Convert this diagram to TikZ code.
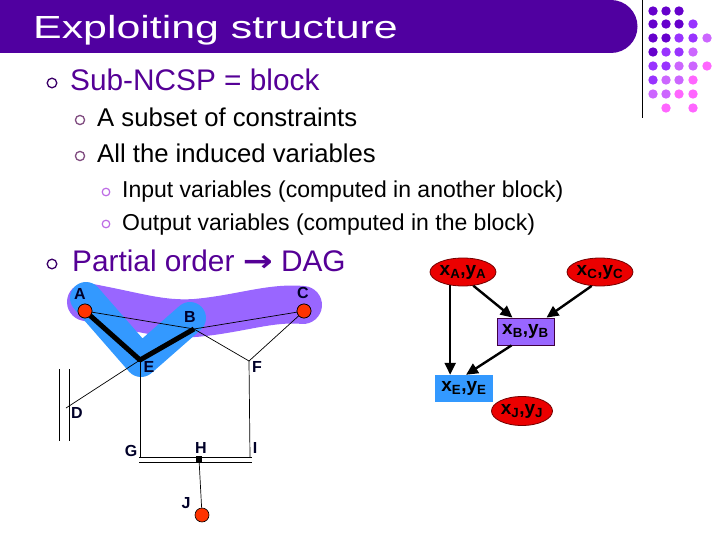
\documentclass[tikz,border=0pt]{standalone}
\usepackage{fontspec}
\setmainfont{Liberation Sans}
\newfontfamily\symfont{DejaVu Sans}
\usepackage{xcolor}
\usetikzlibrary{shapes.geometric,arrows.meta}

\definecolor{titlebar}{RGB}{80,0,160}
\definecolor{headtext}{RGB}{85,0,150}
\definecolor{bandpurple}{RGB}{153,102,255}
\definecolor{bandblue}{RGB}{51,153,255}
\definecolor{dotred}{RGB}{255,51,0}
\definecolor{varred}{RGB}{235,0,0}
\definecolor{labelink}{RGB}{0,0,40}
\definecolor{dotA}{RGB}{102,0,204}
\definecolor{dotB}{RGB}{153,51,255}
\definecolor{dotC}{RGB}{204,102,255}
\definecolor{dotD}{RGB}{255,102,255}

\tikzset{
  lbl/.style={font=\fontsize{16}{16}\selectfont\bfseries, text=labelink, inner sep=0pt},
  redpt/.style={circle, fill=dotred, draw=black, line width=0.6pt, minimum size=14pt, inner sep=0pt},
  varell/.style={ellipse, fill=varred, draw=red!45!black, line width=0.8pt, minimum width=59pt, minimum height=28pt, inner sep=0pt, font=\fontsize{19}{19}\selectfont\bfseries},
  varbox/.style={rectangle, minimum width=57pt, minimum height=27pt, inner sep=0pt, font=\fontsize{19}{19}\selectfont\bfseries},
  dagarrow/.style={-{Triangle[length=12pt,width=11pt]}, line width=2.4pt},
  thin edge/.style={line width=0.7pt},
  txt/.style={anchor=base west, inner sep=0pt},
}

\begin{document}
\begin{tikzpicture}[x=1pt,y=1pt]
    \useasboundingbox (0,0) rectangle (720,-540);
    % title bar
    \fill [titlebar] (0,0) -- (611,0) arc (90:-90:26.5) -- (0,-53) -- cycle;
    \node [txt, text=white, font=\fontsize{32}{32}\selectfont] (title) at (33,-39) {\scalebox{1.34}[1]{Exploiting structure}};
    \draw [line width=1pt] (642,0) -- (642,-118);
    % dots
    \fill [dotA] (653,-11) circle (4.7); \fill [dotA] (666,-11) circle (4.7); \fill [dotA] (679,-11) circle (4.7);
    \fill [dotA] (653,-24) circle (4.7); \fill [dotA] (666,-24) circle (4.7); \fill [dotA] (679,-24) circle (4.7); \fill [dotB] (693,-24) circle (4.7);
    \fill [dotA] (653,-38) circle (4.7); \fill [dotA] (666,-38) circle (4.7); \fill [dotB] (679,-38) circle (4.7); \fill [dotB] (693,-38) circle (4.7); \fill [dotC] (707,-38) circle (4.7);
    \fill [dotA] (653,-52) circle (4.7); \fill [dotB] (666,-52) circle (4.7); \fill [dotB] (679,-52) circle (4.7); \fill [dotC] (693,-52) circle (4.7);
    \fill [dotB] (653,-66) circle (4.7); \fill [dotB] (666,-66) circle (4.7); \fill [dotC] (679,-66) circle (4.7); \fill [dotC] (693,-66) circle (4.7); \fill [dotD] (707,-66) circle (4.7);
    \fill [dotB] (653,-80) circle (4.7); \fill [dotC] (666,-80) circle (4.7); \fill [dotC] (679,-80) circle (4.7); \fill [dotD] (693,-80) circle (4.7);
    \fill [dotC] (653,-94) circle (4.7); \fill [dotC] (666,-94) circle (4.7); \fill [dotD] (679,-94) circle (4.7); \fill [dotD] (693,-94) circle (4.7);
    \fill [dotD] (666,-108) circle (4.7); \fill [dotD] (693,-108) circle (4.7);
    % bullets
    \draw [headtext!70!black, line width=1.3pt, fill=white] (52,-83) circle (4.8);
    \draw [violet!40!gray, line width=1.3pt, fill=white] (80,-120) circle (4.6);
    \draw [violet!40!gray, line width=1.3pt, fill=white] (80,-156) circle (4.6);
    \draw [dotC!80!gray, line width=1.2pt, fill=white] (106,-192) circle (3.8);
    \draw [dotC!80!gray, line width=1.2pt, fill=white] (106,-224) circle (3.8);
    \draw [headtext!70!black, line width=1.3pt, fill=white] (52,-264) circle (4.8);
    % text
    \node [txt, text=headtext, font=\fontsize{29.8}{29.8}\selectfont] (t1) at (70,-91) {Sub-NCSP = block};
    \node [txt, font=\fontsize{25.7}{25.7}\selectfont] (t2) at (97,-127) {A subset of constraints};
    \node [txt, font=\fontsize{25.7}{25.7}\selectfont] (t3) at (97,-163) {All the induced variables};
    \node [txt, font=\fontsize{23}{23}\selectfont] (t4) at (122,-197) {Input variables (computed in another block)};
    \node [txt, font=\fontsize{23}{23}\selectfont] (t5) at (122,-230) {Output variables (computed in the block)};
    \node [txt, text=headtext, font=\fontsize{29.8}{29.8}\selectfont] (t6) at (72,-271) {Partial order {\symfont\bfseries\scalebox{1.2}[1]{→}} DAG};
    % blocks
    \draw [bandpurple, line width=38pt, line cap=round] (86,-302) .. controls (140,-312) and (160,-320) .. (195,-318) .. controls (240,-314) and (270,-302) .. (303,-305);
    \draw [bandblue, line width=32pt, line cap=round, line join=round] (86,-298) -- (141,-361) -- (190,-318);
    % constraint graph
    \node [redpt] (A) at (85,-311) {};
    \node [redpt] (C) at (304,-311) {};
    \node [redpt] (J) at (202,-515) {};
    \coordinate (B) at (194,-329);
    \coordinate (E) at (140,-360);
    \coordinate (F) at (249,-361);
    \coordinate (D) at (66,-408);
    \coordinate (G) at (140,-457);
    \coordinate (I) at (250,-457);
    \node [fill=black, minimum size=6pt, inner sep=0pt] (H) at (199,-459) {};
    \draw [thin edge] (A.center) -- (B);
    \draw [thin edge] (B) -- (C.center);
    \draw [thin edge] (B) -- (F);
    \draw [thin edge] (C.center) -- (F);
    \draw [thin edge] (E) -- (D);
    \draw [thin edge] (E) -- (G);
    \draw [thin edge] (F) -- (I);
    \draw [thin edge] (139,-457) -- (252,-457);
    \draw [thin edge] (139,-462) -- (252,-462);
    \draw [thin edge] (59,-369) -- (59,-441);
    \draw [thin edge] (69,-369) -- (69,-441);
    \draw [thin edge] (H) -- (J);
    \draw [line width=5pt, line join=round] (A.center) -- (E) -- (B);
    \node [redpt] at (A) {};
    \node [redpt] at (C) {};
    \node [lbl] (labA) at (80,-294) {A};
    \node [lbl] (labB) at (190,-317) {B};
    \node [lbl] (labC) at (303,-293) {C};
    \node [lbl] (labD) at (77,-413) {D};
    \node [lbl] (labE) at (149,-367) {E};
    \node [lbl] (labF) at (257,-367) {F};
    \node [lbl] (labG) at (131,-451) {G};
    \node [lbl] (labH) at (201,-448) {H};
    \node [lbl] (labI) at (255,-448) {I};
    \node [lbl] (labJ) at (186,-503) {J};
    % DAG of blocks
    \node [varell] (xa) at (463,-272) {x\textsubscript{A},y\textsubscript{A}};
    \node [varell] (xc) at (600,-272) {x\textsubscript{C},y\textsubscript{C}};
    \node [varbox, fill=bandpurple, draw=violet!50!black, line width=0.8pt] (xb) at (525.5,-331.5) {x\textsubscript{B},y\textsubscript{B}};
    \node [varbox, fill=bandblue, minimum width=58pt] (xe) at (464,-388.5) {x\textsubscript{E},y\textsubscript{E}};
    \node [varell, minimum width=61pt, minimum height=29pt] (xj) at (522,-411) {x\textsubscript{J},y\textsubscript{J}};
    \draw [dagarrow] (xa.226) -- (xa.226 |- xe.north);
    \draw [dagarrow] (xa.-53) -- ([xshift=-13pt]xb.north);
    \draw [dagarrow] (xc.239) -- ([xshift=21pt]xb.north);
    \draw [dagarrow] ([xshift=-14pt]xb.south) -- ([xshift=2pt]xe.north);
\end{tikzpicture}
\end{document}
